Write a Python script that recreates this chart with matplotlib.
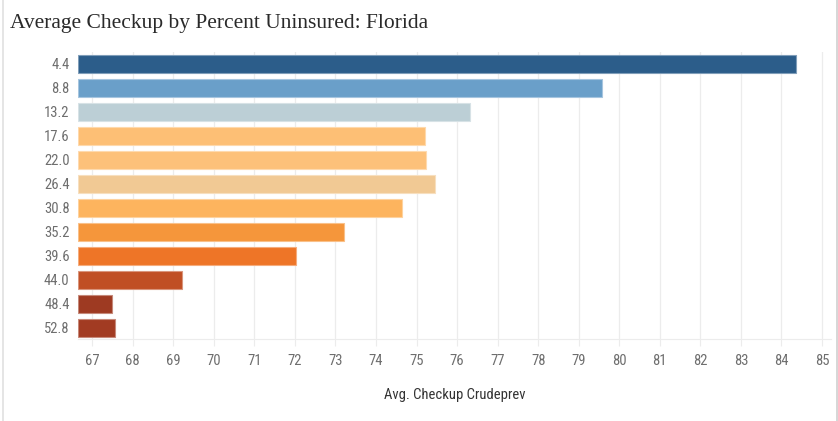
import matplotlib
matplotlib.use("Agg")
import matplotlib.pyplot as plt
from matplotlib.colors import to_rgb
import numpy as np

# data
pct_uninsured = ["4.4", "8.8", "13.2", "17.6", "22.0", "26.4",
                 "30.8", "35.2", "39.6", "44.0", "48.4", "52.8"]
avg_checkup = [84.35, 79.57, 76.31, 75.20, 75.23, 75.46,
               74.63, 73.21, 72.02, 69.21, 67.49, 67.57]
bar_colors = ["#2c5d8a", "#6a9fc9", "#bccfd6", "#fdbf75", "#fdc17a", "#f1c994",
              "#fdb45e", "#f5963b", "#ee7527", "#c04f24", "#9e3a22", "#a23b22"]
x_ticks = list(range(67, 86))

NARROW = ["Roboto Condensed", "DejaVu Sans Condensed", "Roboto", "DejaVu Sans"]
SERIF = ["Liberation Serif", "DejaVu Serif"]

fig = plt.figure(figsize=(8.38, 4.21), dpi=100)
ax = fig.add_axes([0.093, 0.195, 0.8986, 0.6815])

y = np.arange(len(pct_uninsured))
x0 = 66.65
edges = [tuple(0.6 * np.array(to_rgb(c)) + 0.4) for c in bar_colors]
ax.barh(y, [v - x0 for v in avg_checkup], left=x0, height=0.75,
        color=bar_colors, edgecolor=edges, linewidth=0.8, zorder=2)

ax.set_xlim(x0, 85.22)
ax.set_ylim(len(y) - 0.54, -0.5)
ax.set_xticks(x_ticks)
ax.set_xticklabels([str(t) for t in x_ticks], family=NARROW, fontsize=10.5, color="#6e6e6e")
ax.set_yticks(y)
ax.set_yticklabels(pct_uninsured, family=NARROW, fontsize=10.5, color="#6e6e6e")
ax.grid(axis="x", color="#ececec", lw=0.9, zorder=0)
for s in ["top", "right", "left"]:
    ax.spines[s].set_visible(False)
ax.spines["bottom"].set_color("#ececec")
ax.tick_params(axis="x", length=5, color="#ececec", pad=6)
ax.tick_params(axis="y", length=0, pad=6)
ax.set_xlabel("Avg. Checkup Crudeprev", family=NARROW, fontsize=10.5,
              color="#333333", labelpad=14)

fig.text(0.012, 0.944, "Average Checkup by Percent Uninsured: Florida",
         family=SERIF, fontsize=15.5, color="#2a2a2a", va="center")

# thin frame lines on the left and right edges
fig.add_artist(plt.Line2D([0.003, 0.003], [0, 1], color="#e0e0e0", lw=1.2))
fig.add_artist(plt.Line2D([0.9985, 0.9985], [0, 1], color="#d0d0d0", lw=1.2))

fig.savefig("out.png", dpi=100)
